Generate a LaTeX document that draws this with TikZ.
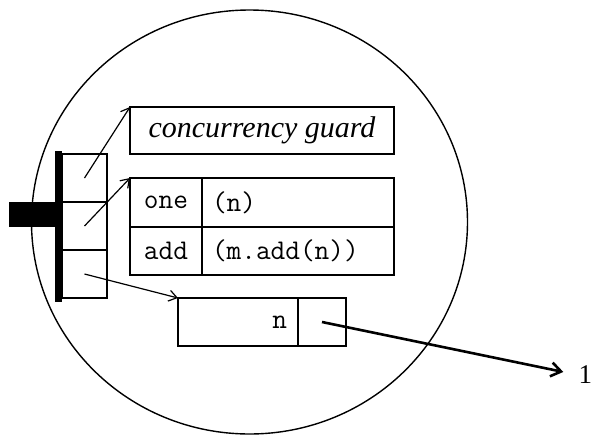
\documentclass[tikz,border=0pt]{standalone}
\usepackage{fontspec}
\setmainfont{Liberation Serif}
\usepackage{tikz}
\usetikzlibrary{shapes,positioning}
\usetikzlibrary{arrows.meta}

\begin{document}
\begin{tikzpicture}[x=1pt,y=-1pt,line width=1.2pt,draw=black]
		\tikzstyle{cell}=[rectangle, draw=black, inner sep=0pt, outer sep=0pt, minimum height=48]
		\tikzstyle{code}=[font=\ttfamily\fontsize{28.5}{28.5}\selectfont]
		\tikzset{>={Straight Barb[length=8pt,width=11pt]}}
		\useasboundingbox (0,0) rectangle (595,437);
		\node[ellipse, draw=black, line width=1.4pt, minimum width=436, minimum height=424, inner sep=0pt] (object) at (249.5,222) {};
		\fill (55,151) rectangle (62,302);
		\fill (9,202) rectangle (55,227);
		\node[cell, minimum width=45, anchor=north west] (slot1) at (62,154) {};
		\node[cell, minimum width=45, below=0 of slot1] (slot2) {};
		\node[cell, minimum width=45, below=0 of slot2] (slot3) {};
		\node[cell, minimum width=264, minimum height=47, anchor=north west, font=\itshape\fontsize{30}{30}\selectfont] (guard) at (130,107) {concurrency guard};
		\node[cell, code, minimum width=72, minimum height=49, anchor=north west] (sel1) at (130,178) {one};
		\node[cell, code, minimum height=49, text width=172, inner xsep=10, align=left, right=0 of sel1] (arg1) {(n)};
		\node[cell, code, minimum width=72, below=0 of sel1] (sel2) {add};
		\node[cell, code, text width=172, inner xsep=10, align=left, right=0 of sel2] (arg2) {(m.add(n))};
		\node[cell, code, text width=98, inner xsep=11, align=right, anchor=north west] (val) at (178,298) {n};
		\node[cell, minimum width=48, right=0 of val] (ref) {};
		\node[inner sep=0pt, anchor=west, font=\fontsize{27}{27}\selectfont] (lbl) at (578,375) {1};
		\path (slot1.center) edge[->] (guard.north west);
		\path (slot2.center) edge[->] (sel1.north west);
		\path (slot3.center) edge[->] (val.north west);
		\path (ref.center) edge[->, line width=2.6pt, shorten >=15pt, >={Straight Barb[length=10pt,width=14pt]}] (lbl.west);
	\end{tikzpicture}
\end{document}
